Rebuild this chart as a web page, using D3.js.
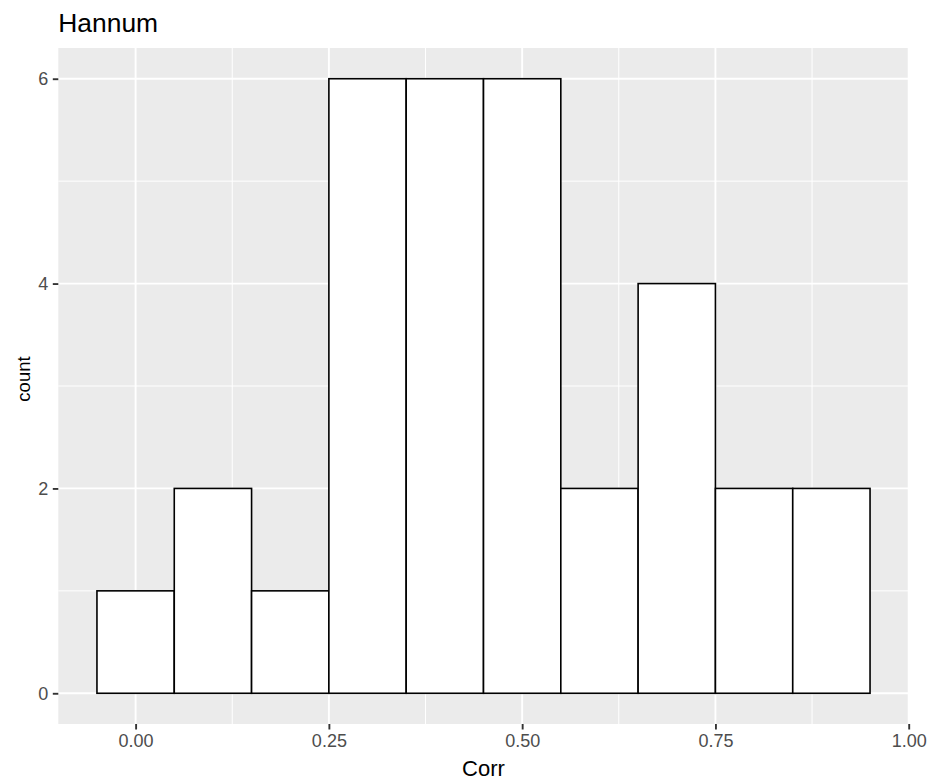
<!DOCTYPE html>
<html>
<head>
<meta charset="utf-8">
<script src="https://cdn.jsdelivr.net/npm/d3@7"></script>
<style>
  html, body { margin: 0; padding: 0; background: #ffffff; }
  svg { display: block; }
  text { font-family: "Liberation Sans", Arial, Helvetica, sans-serif; }
</style>
</head>
<body>
<svg id="chart" width="927" height="784"></svg>
<script>
// ---- data ----
const chartTitle = "Hannum";
const xLabel = "Corr";
const yLabel = "count";
const binStarts = [-0.05, 0.05, 0.15, 0.25, 0.35, 0.45, 0.55, 0.65, 0.75, 0.85];
const binEnds   = [0.05, 0.15, 0.25, 0.35, 0.45, 0.55, 0.65, 0.75, 0.85, 0.95];
const counts    = [1, 2, 1, 6, 6, 6, 2, 4, 2, 2];
const xTicks = [0, 0.25, 0.5, 0.75, 1.0];
const xTickLabels = ["0.00", "0.25", "0.50", "0.75", "1.00"];
const xMinor = [0.125, 0.375, 0.625, 0.875];
const yTicks = [0, 2, 4, 6];
const yMinor = [1, 3, 5];

// ---- layout ----
const panel = { left: 58.3, right: 908.7, top: 48, bottom: 724 };
const svg = d3.select("#chart");

const x = d3.scaleLinear().domain([-0.1, 1.0]).range([panel.left, panel.right]);
const y = d3.scaleLinear().domain([-0.3, 6.3]).range([panel.bottom, panel.top]);

// panel background
svg.append("rect")
  .attr("x", panel.left).attr("y", panel.top)
  .attr("width", panel.right - panel.left)
  .attr("height", panel.bottom - panel.top)
  .attr("fill", "#EBEBEB");

const grid = svg.append("g");
// minor grid
grid.selectAll("line.xmin").data(xMinor).enter().append("line")
  .attr("x1", d => x(d)).attr("x2", d => x(d))
  .attr("y1", panel.top).attr("y2", panel.bottom)
  .attr("stroke", "#fff").attr("stroke-width", 1);
grid.selectAll("line.ymin").data(yMinor).enter().append("line")
  .attr("y1", d => y(d)).attr("y2", d => y(d))
  .attr("x1", panel.left).attr("x2", panel.right)
  .attr("stroke", "#fff").attr("stroke-width", 1);
// major grid
grid.selectAll("line.xmaj").data(xTicks).enter().append("line")
  .attr("x1", d => x(d)).attr("x2", d => x(d))
  .attr("y1", panel.top).attr("y2", panel.bottom)
  .attr("stroke", "#fff").attr("stroke-width", 1.9);
grid.selectAll("line.ymaj").data(yTicks).enter().append("line")
  .attr("y1", d => y(d)).attr("y2", d => y(d))
  .attr("x1", panel.left).attr("x2", panel.right)
  .attr("stroke", "#fff").attr("stroke-width", 1.9);

// bars
const bins = counts.map((c, i) => ({ x0: binStarts[i], x1: binEnds[i], count: c }));
svg.append("g").selectAll("rect").data(bins).enter().append("rect")
  .attr("x", d => x(d.x0))
  .attr("y", d => y(d.count))
  .attr("width", d => x(d.x1) - x(d.x0))
  .attr("height", d => y(0) - y(d.count))
  .attr("fill", "#ffffff")
  .attr("stroke", "#000000")
  .attr("stroke-width", 1.6);

// axes
const xAxis = d3.axisBottom(x).tickValues(xTicks)
  .tickFormat((d, i) => xTickLabels[i]).tickSize(5.5).tickPadding(4.5);
const gx = svg.append("g").attr("transform", `translate(0,${panel.bottom})`).call(xAxis);
gx.select(".domain").remove();
gx.selectAll(".tick line").attr("stroke", "#333333").attr("stroke-width", 1.9);
gx.selectAll(".tick text").attr("fill", "#4D4D4D").attr("font-size", "18px")
  .attr("font-family", "Liberation Sans, Arial, sans-serif");

const yAxis = d3.axisLeft(y).tickValues(yTicks)
  .tickFormat(d3.format("d")).tickSize(5.5).tickPadding(4.5);
const gy = svg.append("g").attr("transform", `translate(${panel.left},0)`).call(yAxis);
gy.select(".domain").remove();
gy.selectAll(".tick line").attr("stroke", "#333333").attr("stroke-width", 1.9);
gy.selectAll(".tick text").attr("fill", "#4D4D4D").attr("font-size", "18px")
  .attr("font-family", "Liberation Sans, Arial, sans-serif");

// titles
svg.append("text")
  .attr("x", panel.left).attr("y", 32)
  .attr("font-size", "26.4px").attr("fill", "#000")
  .text(chartTitle);

svg.append("text")
  .attr("x", (panel.left + panel.right) / 2).attr("y", 775.5)
  .attr("text-anchor", "middle")
  .attr("font-size", "22px").attr("fill", "#000")
  .text(xLabel);

svg.append("text")
  .attr("transform", `translate(30,379) rotate(-90)`)
  .attr("text-anchor", "middle")
  .attr("font-size", "18.5px").attr("fill", "#000")
  .text(yLabel);
</script>
</body>
</html>
